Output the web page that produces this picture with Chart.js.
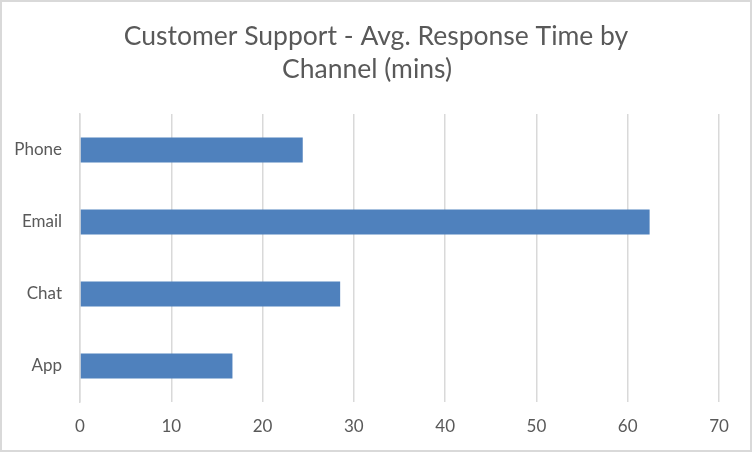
<!DOCTYPE html>
<html>
<head>
<meta charset="utf-8">
<script src="https://cdn.jsdelivr.net/npm/chart.js@4"></script>
<style>
html,body{margin:0;padding:0;background:#fff;}
#wrap{width:752px;height:452px;position:relative;}
</style>
</head>
<body>
<div id="wrap"><canvas id="c" width="752" height="452"></canvas></div>
<script>
const categories = ["Phone", "Email", "Chat", "App"];
const responseMins = [24.4, 62.4, 28.5, 16.7];
const xTicks = [0, 10, 20, 30, 40, 50, 60, 70];
const titleLines = ["Customer Support - Avg. Response Time by", "Channel (mins)"];

const frameAndTitle = {
  id: 'frameAndTitle',
  afterDraw(chart) {
    const ctx = chart.ctx;
    ctx.save();
    ctx.strokeStyle = '#d9d9d9';
    ctx.lineWidth = 2;
    ctx.strokeRect(1, 1, chart.width - 2, chart.height - 2);
    ctx.fillStyle = '#595959';
    ctx.font = 'normal 26.5px Lato';
    ctx.textAlign = 'center';
    ctx.textBaseline = 'alphabetic';
    const cx = chart.width / 2;
    titleLines.forEach((line, i) => ctx.fillText(line, cx - (i === 1 ? 9 : 0), 45 + i * 33));
    ctx.restore();
  }
};

new Chart(document.getElementById('c'), {
  type: 'bar',
  data: {
    labels: categories,
    datasets: [{
      label: 'Avg. Response Time (mins)',
      data: responseMins,
      backgroundColor: '#4F81BD',
      borderWidth: 0,
      categoryPercentage: 1,
      barPercentage: 0.35
    }]
  },
  options: {
    indexAxis: 'y',
    responsive: false,
    animation: false,
    devicePixelRatio: 1,
    layout: { padding: { top: 114, left: 0, right: 33, bottom: 0 } },
    plugins: {
      legend: { display: false },
      tooltip: { enabled: false },
      title: { display: false }
    },
    scales: {
      x: {
        type: 'linear',
        min: 0,
        max: 70,
        afterBuildTicks(axis) { axis.ticks = xTicks.map(v => ({ value: v })); },
        afterFit(axis) { axis.height = 50; },
        grid: { color: '#d9d9d9', lineWidth: 1.5, drawTicks: false },
        border: { display: false },
        ticks: { color: '#595959', font: { family: 'Lato', size: 17 }, padding: 14 }
      },
      y: {
        afterFit(axis) { axis.width = 80; },
        grid: { display: false, drawTicks: false },
        border: { display: true, color: '#d9d9d9', width: 1.5 },
        ticks: { color: '#595959', font: { family: 'Lato', size: 17 }, padding: 18 }
      }
    }
  },
  plugins: [frameAndTitle]
});
</script>
</body>
</html>
